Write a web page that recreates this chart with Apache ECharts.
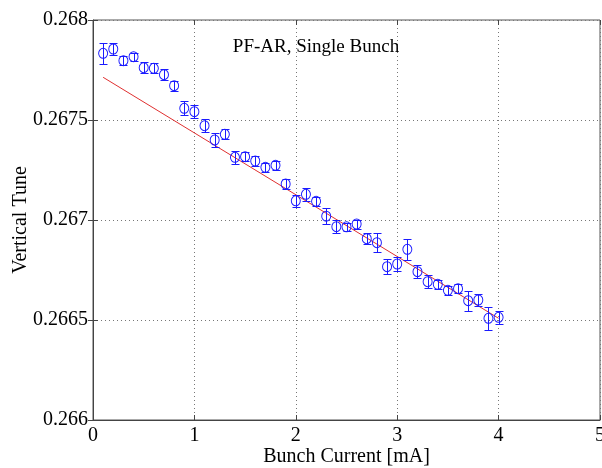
<!DOCTYPE html>
<html>
<head>
<meta charset="utf-8">
<script src="https://cdn.jsdelivr.net/npm/echarts@6/dist/echarts.min.js"></script>
<style>
  html, body { margin: 0; padding: 0; background: #fff; }
  #chart { width: 602px; height: 468px; }
</style>
</head>
<body>
<div id="chart"></div>
<script>
// Bunch current [mA]
const current = [0.1, 0.2, 0.3, 0.4, 0.5, 0.6, 0.7, 0.8, 0.9, 1.0,
                 1.1, 1.2, 1.3, 1.4, 1.5, 1.6, 1.7, 1.8, 1.9, 2.0,
                 2.1, 2.2, 2.3, 2.4, 2.5, 2.6, 2.7, 2.8, 2.9, 3.0,
                 3.1, 3.2, 3.3, 3.4, 3.5, 3.6, 3.7, 3.8, 3.9, 4.0];
// Measured vertical tune
const tune = [0.2678335, 0.267855, 0.2677965, 0.2678165, 0.2677615, 0.2677585, 0.2677265, 0.2676715, 0.2675585, 0.2675415,
              0.2674715, 0.2674000, 0.2674285, 0.2673135, 0.2673165, 0.2672950, 0.2672635, 0.2672735, 0.2671800, 0.2670960,
              0.2671285, 0.2670935, 0.2670190, 0.2669665, 0.2669660, 0.2669800, 0.2669065, 0.2668865, 0.2667665, 0.2667800,
              0.2668535, 0.2667415, 0.2666915, 0.2666785, 0.2666485, 0.2666565, 0.2665965, 0.2666000, 0.2665085, 0.2665135];
// Error bar half-widths
const tuneErr = [0.0000515, 0.000029, 0.0000235, 0.000020, 0.0000275, 0.000025, 0.0000265, 0.000025, 0.000035, 0.0000335,
                 0.0000335, 0.0000335, 0.000025, 0.0000335, 0.0000225, 0.0000265, 0.000021, 0.0000225, 0.000025, 0.000029,
                 0.0000325, 0.0000235, 0.000039, 0.0000315, 0.0000185, 0.0000225, 0.0000285, 0.0000485, 0.0000365, 0.0000335,
                 0.0000515, 0.0000335, 0.0000335, 0.0000235, 0.0000225, 0.0000235, 0.000050, 0.000029, 0.0000585, 0.0000335];
// Linear fit
const fitX = [0.1, 4.0];
const fitY = [0.2677135, 0.2665085];

const xTicks = { min: 0, max: 5, interval: 1 };
const yTicks = { min: 0.266, max: 0.268, interval: 0.0005 };

const serif = '"Liberation Serif", "Times New Roman", serif';
const blue = '#1a1aff';

const chart = echarts.init(document.getElementById('chart'), null, { renderer: 'canvas' });

const tickFmt = v => String(parseFloat(Number(v).toFixed(4)));

const option = {
  backgroundColor: '#fff',
  animation: false,
  grid: {
    left: 93, right: 2, top: 20, bottom: 48,
    containLabel: false, outerBoundsMode: 'none',
    show: true, borderColor: '#555', borderWidth: 1
  },
  title: {
    text: 'PF-AR, Single Bunch',
    left: 311, top: 33, textAlign: 'center',
    textStyle: { fontFamily: serif, fontSize: 19, fontWeight: 'normal', color: '#000' }
  },
  xAxis: [{
    type: 'value', min: xTicks.min, max: xTicks.max, interval: xTicks.interval,
    name: 'Bunch Current [mA]', nameLocation: 'middle', nameGap: 27, nameMoveOverlap: false,
    nameTextStyle: { fontFamily: serif, fontSize: 20, color: '#000' },
    axisLine: { show: true, lineStyle: { color: '#444', width: 1 } },
    axisTick: { show: true, inside: true, length: 5, lineStyle: { color: '#444' } },
    axisLabel: { fontFamily: serif, fontSize: 20, color: '#000', margin: 6, showMaxLabel: true, showMinLabel: true },
    splitLine: { show: true, lineStyle: { color: '#777', type: [1, 3], width: 1 } }
  }, {
    type: 'value', position: 'top', min: xTicks.min, max: xTicks.max, interval: xTicks.interval,
    axisLine: { show: false },
    axisTick: { show: true, inside: true, length: 5, lineStyle: { color: '#444' } },
    axisLabel: { show: false }, splitLine: { show: false }
  }],
  yAxis: [{
    type: 'value', min: yTicks.min, max: yTicks.max, interval: yTicks.interval,
    name: 'Vertical Tune', nameLocation: 'middle', nameGap: 62, nameRotate: 90, nameMoveOverlap: false,
    nameTextStyle: { fontFamily: serif, fontSize: 20, color: '#000' },
    axisLine: { show: true, lineStyle: { color: '#444', width: 1 } },
    axisTick: { show: true, inside: true, length: 5, lineStyle: { color: '#444' } },
    axisLabel: { fontFamily: serif, fontSize: 20, color: '#000', margin: 5, formatter: tickFmt, showMaxLabel: true, showMinLabel: true },
    splitLine: { show: true, lineStyle: { color: '#777', type: [1, 3], width: 1 } }
  }, {
    type: 'value', position: 'right', min: yTicks.min, max: yTicks.max, interval: yTicks.interval,
    axisLine: { show: false },
    axisTick: { show: true, inside: true, length: 5, lineStyle: { color: '#444' } },
    axisLabel: { show: false }, splitLine: { show: false }
  }],
  series: [{
    // fitted line
    type: 'line', xAxisIndex: 0, yAxisIndex: 0,
    data: fitX.map((x, i) => [x, fitY[i]]),
    symbol: 'none', lineStyle: { color: '#e03030', width: 1 }, z: 2
  }, {
    // error bars with caps
    type: 'custom', xAxisIndex: 0, yAxisIndex: 0,
    data: current.map((c, i) => [c, tune[i], tuneErr[i]]),
    dimensions: ['x', 'y', 'err'],
    encode: { x: 0, y: 1 },
    renderItem: (params, api) => {
      const x = api.value(0), y = api.value(1), e = api.value(2);
      const hi = api.coord([x, y + e]);
      const lo = api.coord([x, y - e]);
      const cx = Math.round(hi[0]) + 0.5;
      const yt = Math.round(hi[1]) + 0.5;
      const yb = Math.round(lo[1]) + 0.5;
      const cw = 4;
      const st = { stroke: blue, lineWidth: 1, fill: null };
      return {
        type: 'group',
        children: [
          { type: 'line', shape: { x1: cx, y1: yt, x2: cx, y2: yb }, style: st },
          { type: 'line', shape: { x1: cx - cw, y1: yt, x2: cx + cw, y2: yt }, style: st },
          { type: 'line', shape: { x1: cx - cw, y1: yb, x2: cx + cw, y2: yb }, style: st }
        ]
      };
    },
    z: 3
  }, {
    // measured points
    type: 'scatter', xAxisIndex: 0, yAxisIndex: 0,
    data: current.map((c, i) => [c, tune[i]]),
    symbol: 'circle', symbolSize: [9, 10],
    itemStyle: { color: 'rgba(255,255,255,0)', borderColor: blue, borderWidth: 1, opacity: 1 },
    z: 4
  }]
};

chart.setOption(option);
</script>
</body>
</html>
